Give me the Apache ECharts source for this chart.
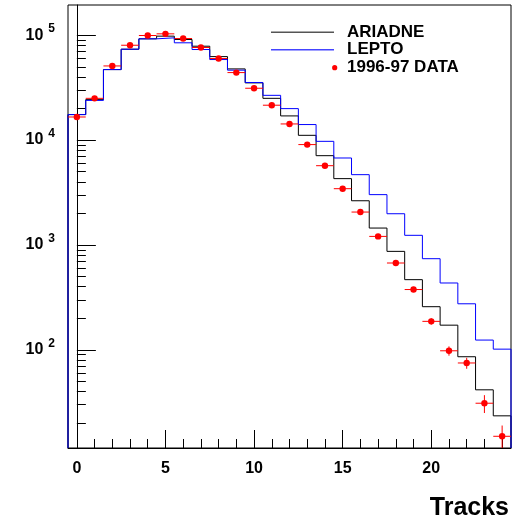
<!DOCTYPE html>
<html>
<head>
<meta charset="utf-8">
<script src="https://cdn.jsdelivr.net/npm/echarts@6/dist/echarts.min.js"></script>
<style>html,body{margin:0;padding:0;background:#fff;}#c{width:521px;height:522px;}</style>
</head>
<body>
<div id="c"></div>
<script>
// ---- data ----
const tracks = [0,1,2,3,4,5,6,7,8,9,10,11,12,13,14,15,16,17,18,19,20,21,22,23,24];
const ariadne = [17500,24300,47000,73500,92300,97900,91000,78500,62500,47700,35100,25000,17000,11100,7100,4290,2640,1450,869,467,258,172,86,41.6,23.5];
const lepto = [17500,23900,47000,73500,92300,94400,84600,73000,58600,46400,35400,26700,19950,14060,9730,6750,4680,3020,1985,1236,740,434,275,124,101.6];
const data9697 = [16600,25000,50900,80200,99300,103000,92900,76300,59900,44000,31200,21500,14250,9060,5700,3440,2060,1207,673,376,187,98,75,31,15];
const dataErr = [130,160,230,280,320,320,300,280,250,210,180,150,120,95,75,60,45,35,26,17,13,10,9,6,4];
const xMajorTicks = [0,5,10,15,20];
const xMinorTicks = [0,1,2,3,4,5,6,7,8,9,10,11,12,13,14,15,16,17,18,19,20,21,22,23,24];
const yMajorTicks = [100,1000,10000,100000];
const yMajorExp = {100:'2',1000:'3',10000:'4',100000:'5'};
const yMinorTicks = [20,30,40,50,60,70,80,90,200,300,400,500,600,700,800,900,2000,3000,4000,5000,6000,7000,8000,9000,20000,30000,40000,50000,60000,70000,80000,90000];
const xMin = -0.5, xMax = 24.5, yMin = 11.6, yMax = 194000;

function steps(vals){
  const pts = [[tracks[0]-0.5, yMin]];
  vals.forEach((v,i)=>{ pts.push([tracks[i]-0.5, v]); pts.push([tracks[i]+0.5, v]); });
  pts.push([tracks[tracks.length-1]+0.5, yMin]);
  return pts;
}

const FONT = 'Liberation Sans, Arial, Helvetica, sans-serif';
const chart = echarts.init(document.getElementById('c'), null, {renderer:'canvas'});
const baseX = {type:'value', min:xMin, max:xMax, position:'bottom', splitLine:{show:false}};
const baseY = {type:'log', logBase:10, min:yMin, max:yMax, position:'left', splitLine:{show:false}};
chart.setOption({
  animation:false,
  grid:{left:68, right:10, top:5, bottom:74, show:true, borderColor:'#000', borderWidth:1, backgroundColor:'transparent', containLabel:false, outerBoundsMode:'none'},
  xAxis:[
    Object.assign({}, baseX, {axisLine:{show:true, lineStyle:{color:'#000', width:1}},
      axisTick:{show:true, inside:true, length:9, customValues:xMinorTicks, lineStyle:{color:'#000'}},
      axisLabel:{show:false}}),
    Object.assign({}, baseX, {axisLine:{show:false},
      axisTick:{show:true, inside:true, length:18, customValues:xMajorTicks, lineStyle:{color:'#000'}},
      axisLabel:{show:true, customValues:xMajorTicks, margin:13, color:'#000', fontSize:16, fontWeight:'bold', fontFamily:FONT}})
  ],
  yAxis:[
    Object.assign({}, baseY, {axisLine:{show:true, lineStyle:{color:'#000', width:1}},
      axisTick:{show:true, inside:true, length:9, customValues:yMinorTicks, lineStyle:{color:'#000'}},
      axisLabel:{show:false}}),
    Object.assign({}, baseY, {axisLine:{show:false},
      axisTick:{show:true, inside:true, length:19, customValues:yMajorTicks, lineStyle:{color:'#000'}},
      axisLabel:{show:true, customValues:yMajorTicks, margin:13, color:'#000',
        formatter:(v)=>'{b|10}{s|' + (yMajorExp[Math.round(v)]||'') + '}',
        rich:{
          b:{fontSize:16, fontWeight:'bold', fontFamily:FONT, color:'#000', lineHeight:16},
          s:{fontSize:12, fontWeight:'bold', fontFamily:FONT, color:'#000', lineHeight:12, padding:[0,0,13,5]}
        }}})
  ],
  graphic:[
    {type:'rect', z:10, shape:{x:271,y:31.5,width:63,height:1.4}, style:{fill:'#555555'}},
    {type:'rect', z:10, shape:{x:271,y:49,width:63,height:1.4}, style:{fill:'#4444ff'}},
    {type:'circle', z:10, shape:{cx:334.7, cy:67.7, r:2.6}, style:{fill:'#ff0000'}},
    {type:'text', z:10, x:347, y:32, style:{text:'ARIADNE', fill:'#000', font:'bold 17px ' + FONT, verticalAlign:'middle'}},
    {type:'text', z:10, x:347, y:49.5, style:{text:'LEPTO', fill:'#000', font:'bold 17px ' + FONT, verticalAlign:'middle'}},
    {type:'text', z:10, x:347, y:67.5, style:{text:'1996-97 DATA', fill:'#000', font:'bold 17px ' + FONT, verticalAlign:'middle'}},
    {type:'text', z:10, x:509, y:508, style:{text:'Tracks', fill:'#000', font:'bold 25px ' + FONT, align:'right', verticalAlign:'middle'}}
  ],
  series:[
    {name:'ARIADNE', type:'line', xAxisIndex:0, yAxisIndex:0, data:steps(ariadne), showSymbol:false, symbol:'none', clip:true,
     lineStyle:{color:'#000', width:1}, z:2},
    {name:'LEPTO', type:'line', xAxisIndex:0, yAxisIndex:0, data:steps(lepto), showSymbol:false, symbol:'none', clip:true,
     lineStyle:{color:'#0000ff', width:1}, z:3},
    {name:'1996-97 DATA', type:'custom', xAxisIndex:0, yAxisIndex:0, z:4,
     data:data9697.map((v,i)=>[tracks[i], v, dataErr[i]]),
     encode:{x:0, y:1},
     renderItem:function(params, api){
       const x = api.value(0), y = api.value(1), e = api.value(2);
       const p = api.coord([x, y]);
       const l = api.coord([x-0.5, y]);
       const r = api.coord([x+0.5, y]);
       const t = api.coord([x, y+e]);
       const b = api.coord([x, Math.max(y-e, yMin)]);
       const st = {stroke:'#ff0000', lineWidth:1};
       return {type:'group', children:[
         {type:'line', shape:{x1:l[0], y1:p[1], x2:r[0], y2:p[1]}, style:st},
         {type:'line', shape:{x1:p[0], y1:t[1], x2:p[0], y2:b[1]}, style:st},
         {type:'circle', shape:{cx:p[0], cy:p[1], r:3.2}, style:{fill:'#ff0000'}}
       ]};
     }}
  ]
});
</script>
</body>
</html>
